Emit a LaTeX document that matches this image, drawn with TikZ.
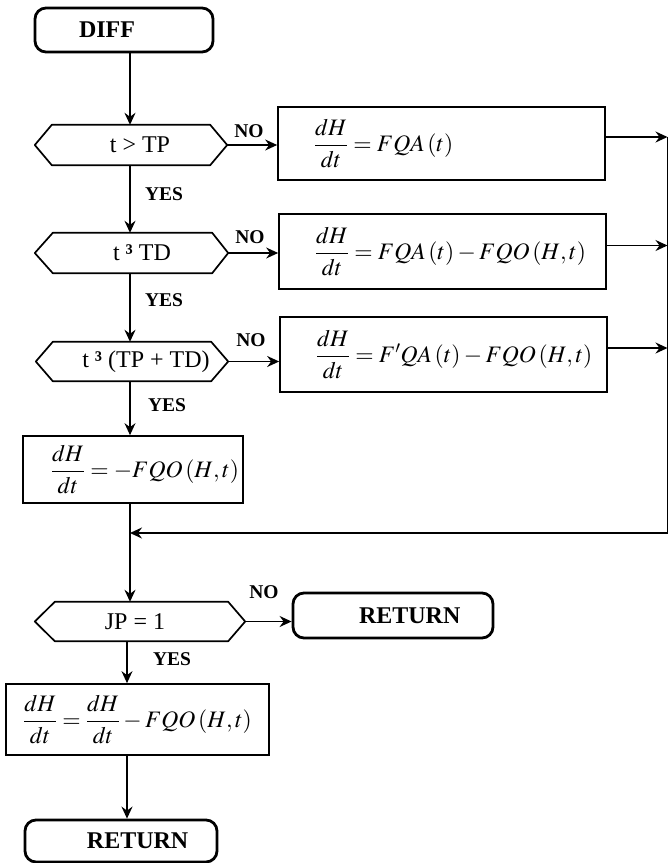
\documentclass[tikz,border=0pt]{standalone}
\usepackage{amsmath}
\usepackage{mathptmx}
\usepackage[no-math]{fontspec}
\setmainfont{Liberation Serif}
\usetikzlibrary{arrows.meta}
\newcommand\hexdraw[3]{\draw[line] ([xshift=#2]#1.north west) -- ([xshift=-#3]#1.north east) -- (#1.east) -- ([xshift=-#3]#1.south east) -- ([xshift=#2]#1.south west) -- (#1.west) -- cycle;}
\begin{document}
\begin{tikzpicture}[x=1pt,y=-1pt,
  line/.style={line width=1.7pt,line join=round},
  arr/.style={line width=1.6pt,-{Stealth[length=12pt,width=11pt,inset=4pt]}},
  term/.style={draw,line width=2.8pt,rounded corners=11pt,inner sep=0pt,font=\fontsize{24}{28}\selectfont\bfseries},
  proc/.style={draw,line width=1.7pt,inner sep=0pt,font=\fontsize{23.6}{28}\selectfont},
  dec/.style={inner sep=0pt,minimum height=40pt,font=\fontsize{24}{28}\selectfont},
  lbl/.style={inner sep=0pt,font=\fontsize{19.5}{22}\selectfont\bfseries},
]
\useasboundingbox (0,0) rectangle (669,863);
\coordinate (spine) at (130,0);
\coordinate (spinel) at (127,0);
\coordinate (bus) at (667.5,0);
\coordinate (join) at (667.5,533);

% terminals
\node[term,minimum width=178pt,minimum height=44pt] (diff) at (124,30) {\makebox[178pt][l]{\hspace{44pt}DIFF}};
\node[term,minimum width=200pt,minimum height=45pt] (ret1) at (393,615.5) {\makebox[200pt][l]{\hspace{66pt}RETURN}};
\node[term,minimum width=192pt,minimum height=42pt] (ret2) at (121,841) {\makebox[192pt][l]{\hspace{62pt}RETURN}};

% decisions
\node[dec,minimum width=192pt] (d1) at (131,145) {\hspace*{18pt}t > TP};
\node[dec,minimum width=193pt] (d2) at (131.5,253) {\hspace*{21pt}t \textbf{³} TD};
\node[dec,minimum width=192pt,minimum height=39pt] (d3) at (132,361.5) {\hspace*{28pt}t \textbf{³} (TP + TD)};
\node[dec,minimum width=210pt,minimum height=39pt] (d4) at (140,621.5) {JP = 1\hspace*{10pt}};
\hexdraw{d1}{17pt}{17pt}
\hexdraw{d2}{18pt}{16pt}
\hexdraw{d3}{17pt}{17pt}
\hexdraw{d4}{20pt}{17pt}

% process boxes
\node[proc,minimum width=327pt,minimum height=73pt] (b1) at (441.5,143.5) {\makebox[255pt][l]{$\dfrac{dH}{dt}=FQA\,(t)$}};
\node[proc,minimum width=327pt,minimum height=75pt] (b2) at (442.5,251.5) {\makebox[255pt][l]{$\dfrac{dH}{dt}=FQA\,(t)-FQO\,(H,t)$}};
\node[proc,minimum width=327pt,minimum height=75pt] (b3) at (443.5,354.5) {\makebox[255pt][l]{$\dfrac{dH}{dt}=F'QA\,(t)-FQO\,(H,t)$}};
\node[proc,minimum width=220pt,minimum height=67pt] (b4) at (133,469.5) {\hspace*{24pt}$\dfrac{dH}{dt}=-FQO\,(H,t)$};
\node[proc,minimum width=263pt,minimum height=71pt] (b5) at (137.5,719.5) {$\dfrac{dH}{dt}=\dfrac{dH}{dt}-FQO\,(H,t)$};

% labels
\node[lbl] (no1) at (249,131) {NO};
\node[lbl] (no2) at (250,237) {NO};
\node[lbl] (no3) at (251,340) {NO};
\node[lbl] (no4) at (264,592) {NO};
\node[lbl] (yes1) at (164,194) {YES};
\node[lbl] (yes2) at (164,300) {YES};
\node[lbl] (yes3) at (167,405) {YES};
\node[lbl] (yes4) at (172,659) {YES};

% main spine
\draw[arr] (diff.south -| spine) -- (d1.north -| spine);
\draw[arr] (d1.south -| spine) -- (d2.north -| spine);
\draw[arr] (d2.south -| spine) -- (d3.north -| spine);
\draw[arr] (d3.south -| spine) -- (b4.north -| spine);
\draw[arr] (b4.south -| spine) -- (d4.north -| spine);
\draw[arr] (d4.south -| spinel) -- (b5.north -| spinel);
\draw[arr] (b5.south -| spinel) -- (ret2.north -| spinel);

% NO branches
\draw[arr] (d1.east) -- (d1.east -| b1.west);
\draw[arr] (d2.east) -- (d2.east -| b2.west);
\draw[arr] (d3.east) -- (d3.east -| b3.west);
\draw[arr] (d4.east) -- (d4.east -| ret1.west);

% outputs to bus
\draw[arr] ([yshift=6.5pt]b1.east) -- ([yshift=6.5pt]b1.east -| bus);
\draw[arr] ([yshift=6pt]b2.east) -- ([yshift=6pt]b2.east -| bus);
\draw[arr] ([yshift=6.5pt]b3.east) -- ([yshift=6.5pt]b3.east -| bus);
\draw[line] ([yshift=6.5pt]b1.east -| bus) -- (join);
\draw[arr] (join) -- (join -| spine);
\end{tikzpicture}
\end{document}
